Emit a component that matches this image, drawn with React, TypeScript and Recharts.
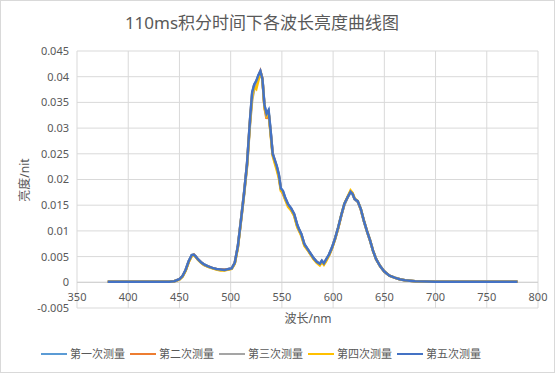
import { LineChart, Line, XAxis, YAxis, CartesianGrid, ReferenceLine } from 'recharts';

// 波长 (nm)
const wavelengths = [
  380, 400, 420, 440, 445, 450, 453, 456, 459, 462,
  464, 466, 468, 471, 474, 478, 482, 486, 490, 494,
  498, 501, 504, 507, 510, 513, 516, 519, 521, 523,
  525, 527, 529, 531, 533, 535, 537, 539, 541, 543,
  545, 547, 549, 551, 553, 556, 559, 562, 565, 567,
  569, 572, 575, 578, 581, 584, 587, 589, 591, 593,
  596, 599, 602, 605, 608, 611, 614, 617, 619, 621,
  624, 627, 630, 633, 636, 639, 642, 646, 650, 655,
  660, 665, 670, 680, 700, 720, 740, 760, 780,
];

const run1 = [
  0.0001, 0.0001, 0.0001, 0.0001, 0.0002, 0.0006, 0.0012, 0.0024, 0.0041, 0.0053,
  0.0054, 0.0050, 0.0045, 0.0039, 0.0035, 0.0031, 0.0028, 0.0026, 0.0025, 0.0024,
  0.0026, 0.0027, 0.0038, 0.0070, 0.0121, 0.0173, 0.0231, 0.0318, 0.0368, 0.0384,
  0.0391, 0.0402, 0.0410, 0.0396, 0.0344, 0.0327, 0.0333, 0.0294, 0.0251, 0.0237,
  0.0225, 0.0209, 0.0182, 0.0177, 0.0165, 0.0152, 0.0143, 0.0132, 0.0111, 0.0102,
  0.0093, 0.0074, 0.0065, 0.0055, 0.0047, 0.0040, 0.0036, 0.0041, 0.0037, 0.0043,
  0.0054, 0.0068, 0.0086, 0.0107, 0.0131, 0.0152, 0.0165, 0.0176, 0.0172, 0.0162,
  0.0157, 0.0143, 0.0120, 0.0100, 0.0082, 0.0061, 0.0045, 0.0031, 0.0021, 0.0013,
  0.0009, 0.0006, 0.0004, 0.0002, 0.0001, 0.0001, 0.0001, 0.0001, 0.0001,
];

const run2 = [
  0.0001, 0.0001, 0.0001, 0.0001, 0.0002, 0.0006, 0.0012, 0.0023, 0.0040, 0.0052,
  0.0054, 0.0050, 0.0045, 0.0039, 0.0034, 0.0031, 0.0028, 0.0026, 0.0025, 0.0025,
  0.0026, 0.0027, 0.0038, 0.0069, 0.0120, 0.0172, 0.0230, 0.0317, 0.0366, 0.0383,
  0.0390, 0.0400, 0.0411, 0.0397, 0.0340, 0.0318, 0.0330, 0.0292, 0.0250, 0.0237,
  0.0224, 0.0208, 0.0181, 0.0172, 0.0164, 0.0151, 0.0143, 0.0132, 0.0110, 0.0101,
  0.0093, 0.0073, 0.0064, 0.0055, 0.0046, 0.0040, 0.0035, 0.0041, 0.0036, 0.0043,
  0.0053, 0.0067, 0.0085, 0.0106, 0.0130, 0.0152, 0.0165, 0.0177, 0.0173, 0.0162,
  0.0157, 0.0142, 0.0120, 0.0100, 0.0082, 0.0061, 0.0045, 0.0031, 0.0021, 0.0013,
  0.0009, 0.0006, 0.0004, 0.0002, 0.0001, 0.0001, 0.0001, 0.0001, 0.0001,
];

const run3 = [
  0.0001, 0.0001, 0.0001, 0.0001, 0.0002, 0.0006, 0.0011, 0.0023, 0.0040, 0.0052,
  0.0053, 0.0050, 0.0044, 0.0039, 0.0034, 0.0030, 0.0028, 0.0026, 0.0024, 0.0024,
  0.0025, 0.0027, 0.0037, 0.0068, 0.0117, 0.0168, 0.0225, 0.0310, 0.0355, 0.0375,
  0.0385, 0.0396, 0.0408, 0.0395, 0.0342, 0.0325, 0.0331, 0.0290, 0.0248, 0.0235,
  0.0222, 0.0206, 0.0180, 0.0175, 0.0163, 0.0150, 0.0141, 0.0130, 0.0109, 0.0100,
  0.0092, 0.0072, 0.0064, 0.0055, 0.0046, 0.0039, 0.0035, 0.0040, 0.0036, 0.0042,
  0.0053, 0.0067, 0.0085, 0.0106, 0.0130, 0.0151, 0.0164, 0.0175, 0.0171, 0.0161,
  0.0157, 0.0142, 0.0119, 0.0099, 0.0081, 0.0061, 0.0045, 0.0031, 0.0021, 0.0013,
  0.0009, 0.0006, 0.0004, 0.0002, 0.0001, 0.0001, 0.0001, 0.0001, 0.0001,
];

const run4 = [
  0.0001, 0.0001, 0.0001, 0.0001, 0.0002, 0.0005, 0.0011, 0.0022, 0.0039, 0.0051,
  0.0053, 0.0049, 0.0044, 0.0038, 0.0034, 0.0030, 0.0027, 0.0025, 0.0023, 0.0023,
  0.0025, 0.0026, 0.0036, 0.0067, 0.0118, 0.0170, 0.0228, 0.0314, 0.0360, 0.0380,
  0.0376, 0.0392, 0.0410, 0.0394, 0.0340, 0.0324, 0.0330, 0.0288, 0.0246, 0.0232,
  0.0218, 0.0203, 0.0178, 0.0174, 0.0162, 0.0147, 0.0140, 0.0129, 0.0107, 0.0099,
  0.0090, 0.0071, 0.0063, 0.0054, 0.0045, 0.0038, 0.0033, 0.0039, 0.0034, 0.0040,
  0.0052, 0.0066, 0.0085, 0.0106, 0.0131, 0.0153, 0.0166, 0.0179, 0.0174, 0.0163,
  0.0158, 0.0143, 0.0120, 0.0100, 0.0082, 0.0061, 0.0045, 0.0031, 0.0021, 0.0013,
  0.0009, 0.0006, 0.0004, 0.0002, 0.0001, 0.0001, 0.0001, 0.0001, 0.0001,
];

const run5 = [
  0.0001, 0.0001, 0.0001, 0.0001, 0.0002, 0.0006, 0.0012, 0.0024, 0.0041, 0.0053,
  0.0054, 0.0050, 0.0045, 0.0039, 0.0035, 0.0031, 0.0028, 0.0026, 0.0025, 0.0024,
  0.0026, 0.0027, 0.0038, 0.0070, 0.0120, 0.0172, 0.0232, 0.0320, 0.0370, 0.0385,
  0.0392, 0.0403, 0.0411, 0.0395, 0.0345, 0.0328, 0.0335, 0.0295, 0.0250, 0.0238,
  0.0226, 0.0210, 0.0183, 0.0178, 0.0166, 0.0152, 0.0144, 0.0133, 0.0112, 0.0102,
  0.0094, 0.0074, 0.0065, 0.0056, 0.0047, 0.0040, 0.0036, 0.0042, 0.0037, 0.0044,
  0.0054, 0.0068, 0.0086, 0.0107, 0.0131, 0.0153, 0.0165, 0.0176, 0.0172, 0.0162,
  0.0158, 0.0143, 0.0120, 0.0100, 0.0082, 0.0061, 0.0045, 0.0031, 0.0021, 0.0013,
  0.0009, 0.0006, 0.0004, 0.0002, 0.0001, 0.0001, 0.0001, 0.0001, 0.0001,
];

const seriesNames = ['第一次测量', '第二次测量', '第三次测量', '第四次测量', '第五次测量'];
const seriesColors = ['#5B9BD5', '#ED7D31', '#A5A5A5', '#FFC000', '#4472C4'];
const seriesValues = [run1, run2, run3, run4, run5];

const xTicks = [350, 400, 450, 500, 550, 600, 650, 700, 750, 800];
const yTicks = [-0.005, 0, 0.005, 0.01, 0.015, 0.02, 0.025, 0.03, 0.035, 0.04, 0.045];

const data = wavelengths.map((w, i) => {
  const row: Record<string, number> = { w };
  seriesValues.forEach((vals, s) => {
    row[`run${s + 1}`] = vals[i];
  });
  return row;
});

const FONT = '"Noto Sans", "Noto Sans CJK SC", sans-serif';
const TEXT = '#595959';

const XTick = ({ x, y, payload }: any) => (
  <text x={x} y={y - 7} textAnchor="middle" fill={TEXT} fontSize={11} fontFamily={FONT}>
    {payload.value}
  </text>
);

export default function App() {
  return (
    <div
      style={{
        position: 'fixed',
        left: 0,
        top: 0,
        width: 555,
        height: 373,
        background: '#fff',
        border: '1px solid #d9d9d9',
        boxSizing: 'border-box',
        fontFamily: FONT,
      }}
    >
      <div style={{ position: 'absolute', left: -1, top: -1 }}>
        <LineChart
          width={555}
          height={373}
          data={data}
          margin={{ top: 51, right: 17, left: 0, bottom: 0 }}
        >
          <CartesianGrid stroke="#d9d9d9" strokeWidth={1} />
          <XAxis
            dataKey="w"
            type="number"
            domain={[350, 800]}
            ticks={xTicks}
            interval={0}
            height={65}
            axisLine={false}
            tickLine={false}
            tickSize={0}
            tickMargin={0}
            tick={<XTick />}
          />
          <YAxis
            type="number"
            domain={[-0.005, 0.045]}
            ticks={yTicks}
            interval={0}
            width={77}
            axisLine={false}
            tickLine={false}
            tickSize={0}
            tickMargin={8}
            tick={{ fill: TEXT, fontSize: 11, fontFamily: FONT }}
          />
          <ReferenceLine y={0} stroke="#d0d0d0" strokeWidth={1} />
          {seriesNames.map((name, s) => (
            <Line
              key={name}
              type="linear"
              dataKey={`run${s + 1}`}
              name={name}
              stroke={seriesColors[s]}
              strokeWidth={2.5}
              dot={false}
              isAnimationActive={false}
            />
          ))}
        </LineChart>
      </div>

      {/* 标题 */}
      <div
        style={{
          position: 'absolute',
          left: 0,
          width: 522,
          top: 12,
          textAlign: 'center',
          fontSize: 17,
          lineHeight: '20px',
          color: TEXT,
        }}
      >
        110ms积分时间下各波长亮度曲线图
      </div>

      {/* 坐标轴标题 */}
      <div
        style={{
          position: 'absolute',
          left: 257,
          width: 100,
          top: 310,
          textAlign: 'center',
          fontSize: 12,
          lineHeight: '16px',
          color: TEXT,
        }}
      >
        波长/nm
      </div>
      <div
        style={{
          position: 'absolute',
          left: 24 - 50,
          width: 100,
          top: 179 - 8,
          textAlign: 'center',
          fontSize: 12,
          lineHeight: '16px',
          color: TEXT,
          transform: 'rotate(-90deg)',
        }}
      >
        亮度/nit
      </div>

      {/* 图例 */}
      <div
        style={{
          position: 'absolute',
          left: 40,
          top: 345,
          display: 'flex',
          alignItems: 'center',
          fontSize: 11,
          lineHeight: '16px',
          color: TEXT,
        }}
      >
        {seriesNames.map((name, s) => (
          <div key={name} style={{ display: 'flex', alignItems: 'center', marginRight: 5 }}>
            <span
              style={{
                display: 'inline-block',
                width: 26,
                height: 2,
                background: seriesColors[s],
                marginRight: 3,
              }}
            />
            <span>{name}</span>
          </div>
        ))}
      </div>
    </div>
  );
}
